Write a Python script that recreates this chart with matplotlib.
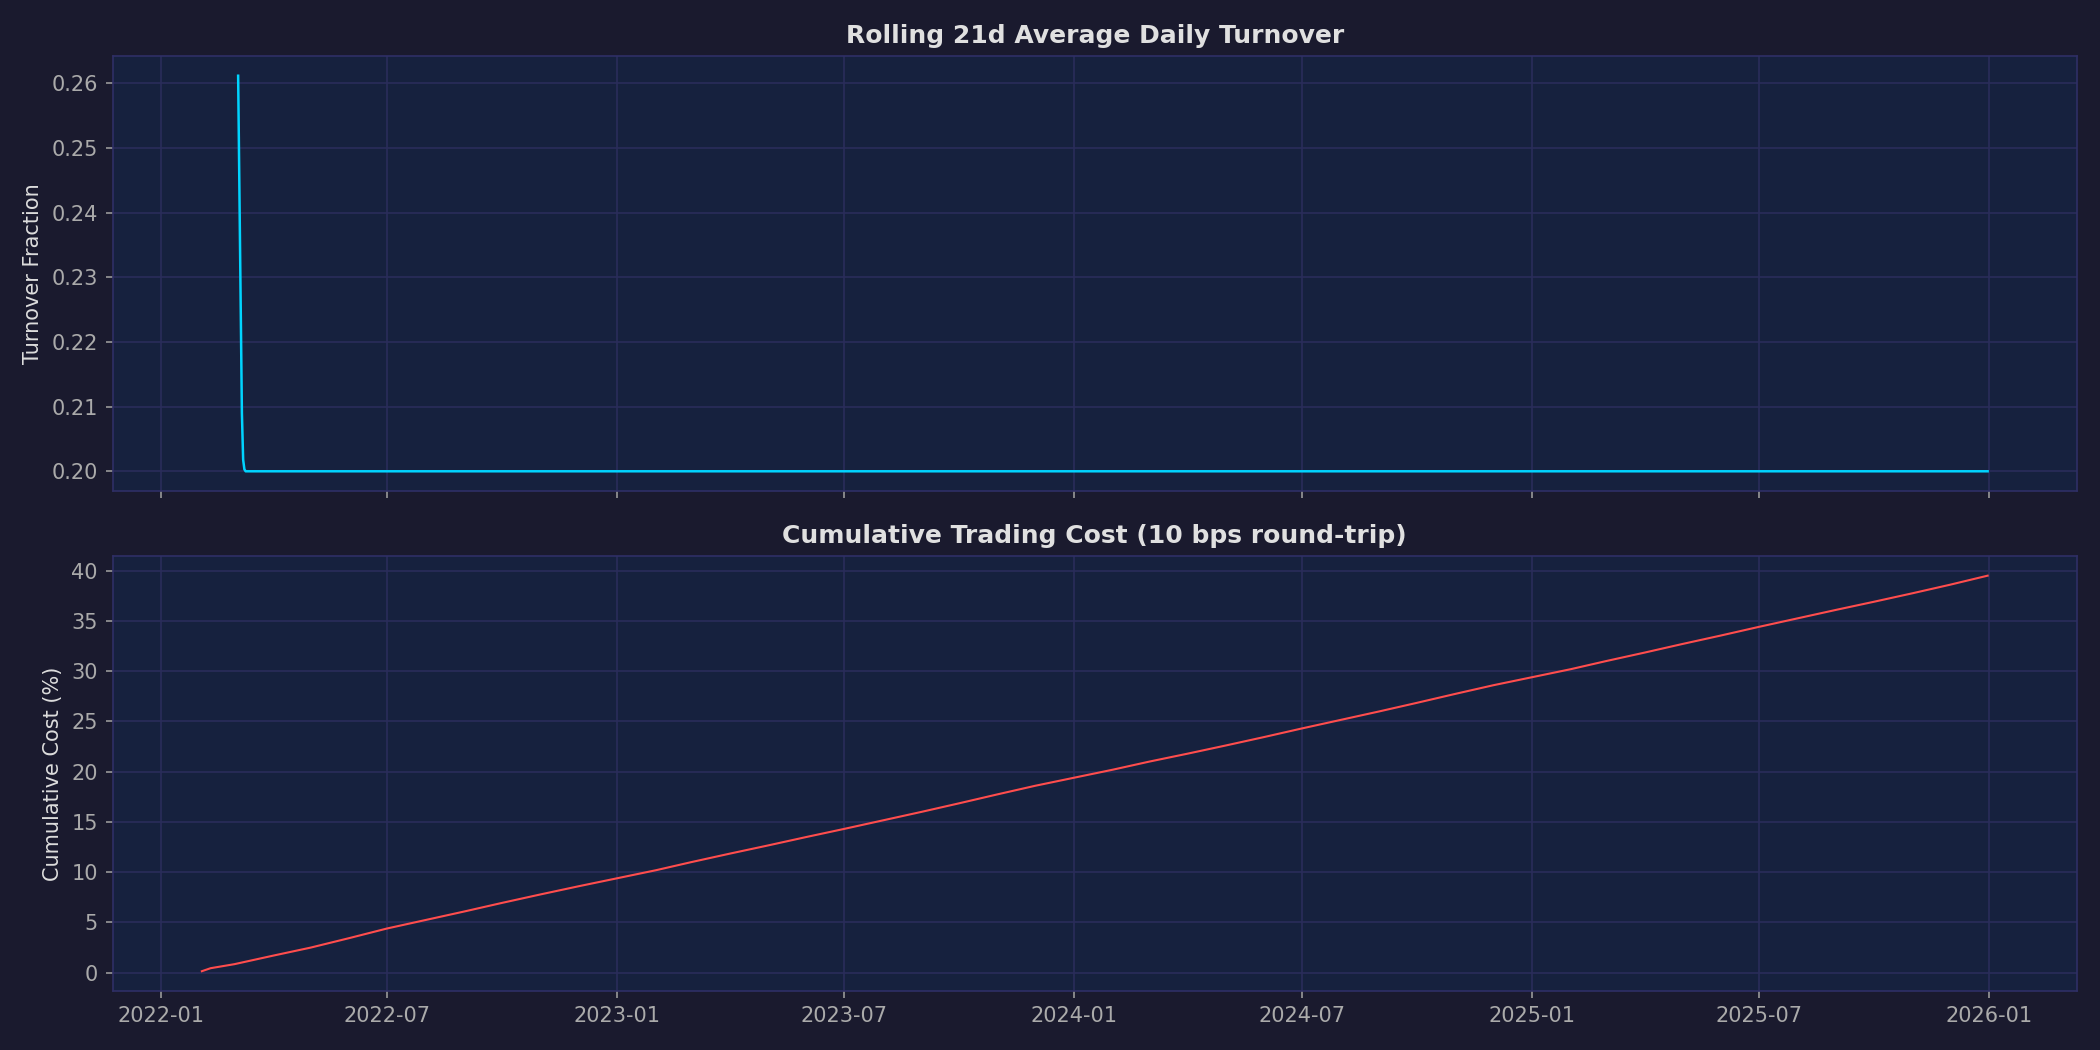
import numpy as np
import pandas as pd
import matplotlib
matplotlib.use("Agg")
import matplotlib.pyplot as plt
import matplotlib.dates as mdates

# rolling 21d average turnover
turn_dates = ["2022-03-04", "2022-03-07", "2022-03-08", "2022-03-09", "2022-03-10", "2025-12-31"]
turn_vals = [0.2612, 0.2090, 0.2018, 0.2003, 0.2000, 0.2000]

# cumulative trading cost in %
cost_dates = ["2022-02-03", "2022-02-10", "2022-03-01", "2022-04-01", "2022-05-01", "2022-06-01",
              "2022-07-01", "2022-08-01", "2022-09-01", "2022-10-01", "2022-11-01", "2022-12-01",
              "2023-01-01", "2023-02-01", "2023-03-01", "2023-04-01", "2023-05-01", "2023-06-01",
              "2023-07-01", "2023-08-01", "2023-09-01", "2023-10-01", "2023-11-01", "2023-12-01",
              "2024-01-01", "2024-02-01", "2024-03-01", "2024-04-01", "2024-05-01", "2024-06-01",
              "2024-07-01", "2024-08-01", "2024-09-01", "2024-10-01", "2024-11-01", "2024-12-01",
              "2025-01-01", "2025-02-01", "2025-03-01", "2025-04-01", "2025-05-01", "2025-06-01",
              "2025-07-01", "2025-08-01", "2025-09-01", "2025-10-01", "2025-11-01", "2025-12-01",
              "2025-12-31"]
cost_vals = [0.15, 0.45, 0.85, 1.7, 2.5, 3.45,
             4.4, 5.25, 6.1, 6.95, 7.8, 8.6,
             9.4, 10.2, 11.0, 11.85, 12.65, 13.5,
             14.3, 15.15, 16.0, 16.85, 17.75, 18.6,
             19.4, 20.2, 21.0, 21.8, 22.6, 23.45,
             24.3, 25.15, 26.0, 26.85, 27.75, 28.6,
             29.4, 30.2, 31.0, 31.85, 32.7, 33.55,
             34.4, 35.25, 36.1, 36.9, 37.75, 38.6,
             39.5]

BG = "#1a1a2e"
PANEL = "#16213e"
GRID = "#2a2d5a"
SPINE = "#2f2f66"

fig, (ax1, ax2) = plt.subplots(2, 1, figsize=(14, 7), dpi=150, sharex=True)
fig.patch.set_facecolor(BG)

ax1.plot(pd.to_datetime(turn_dates), turn_vals, color="#00d4ff", lw=1.2)
ax2.plot(pd.to_datetime(cost_dates), cost_vals, color="#ff4d4d", lw=1.0)

ax1.set_title("Rolling 21d Average Daily Turnover", color="#e0e0e0", fontsize=12, fontweight="bold")
ax1.set_ylabel("Turnover Fraction", color="#dddddd", fontsize=10)
ax2.set_title("Cumulative Trading Cost (10 bps round-trip)", color="#e0e0e0", fontsize=12, fontweight="bold")
ax2.set_ylabel("Cumulative Cost (%)", color="#dddddd", fontsize=10)

for ax in (ax1, ax2):
    ax.set_facecolor(PANEL)
    ax.grid(True, color=GRID, lw=0.8)
    ax.set_axisbelow(True)
    for s in ax.spines.values():
        s.set_color(SPINE)
    ax.tick_params(colors="#999999", labelcolor="#aaaaaa", labelsize=10)

ax2.xaxis.set_major_locator(mdates.MonthLocator(bymonth=[1, 7]))
ax2.xaxis.set_major_formatter(mdates.DateFormatter("%Y-%m"))

plt.subplots_adjust(left=0.0536, right=0.989, top=0.9467, bottom=0.0562, hspace=0.149)
plt.savefig("out.png", dpi=150, facecolor=BG)
